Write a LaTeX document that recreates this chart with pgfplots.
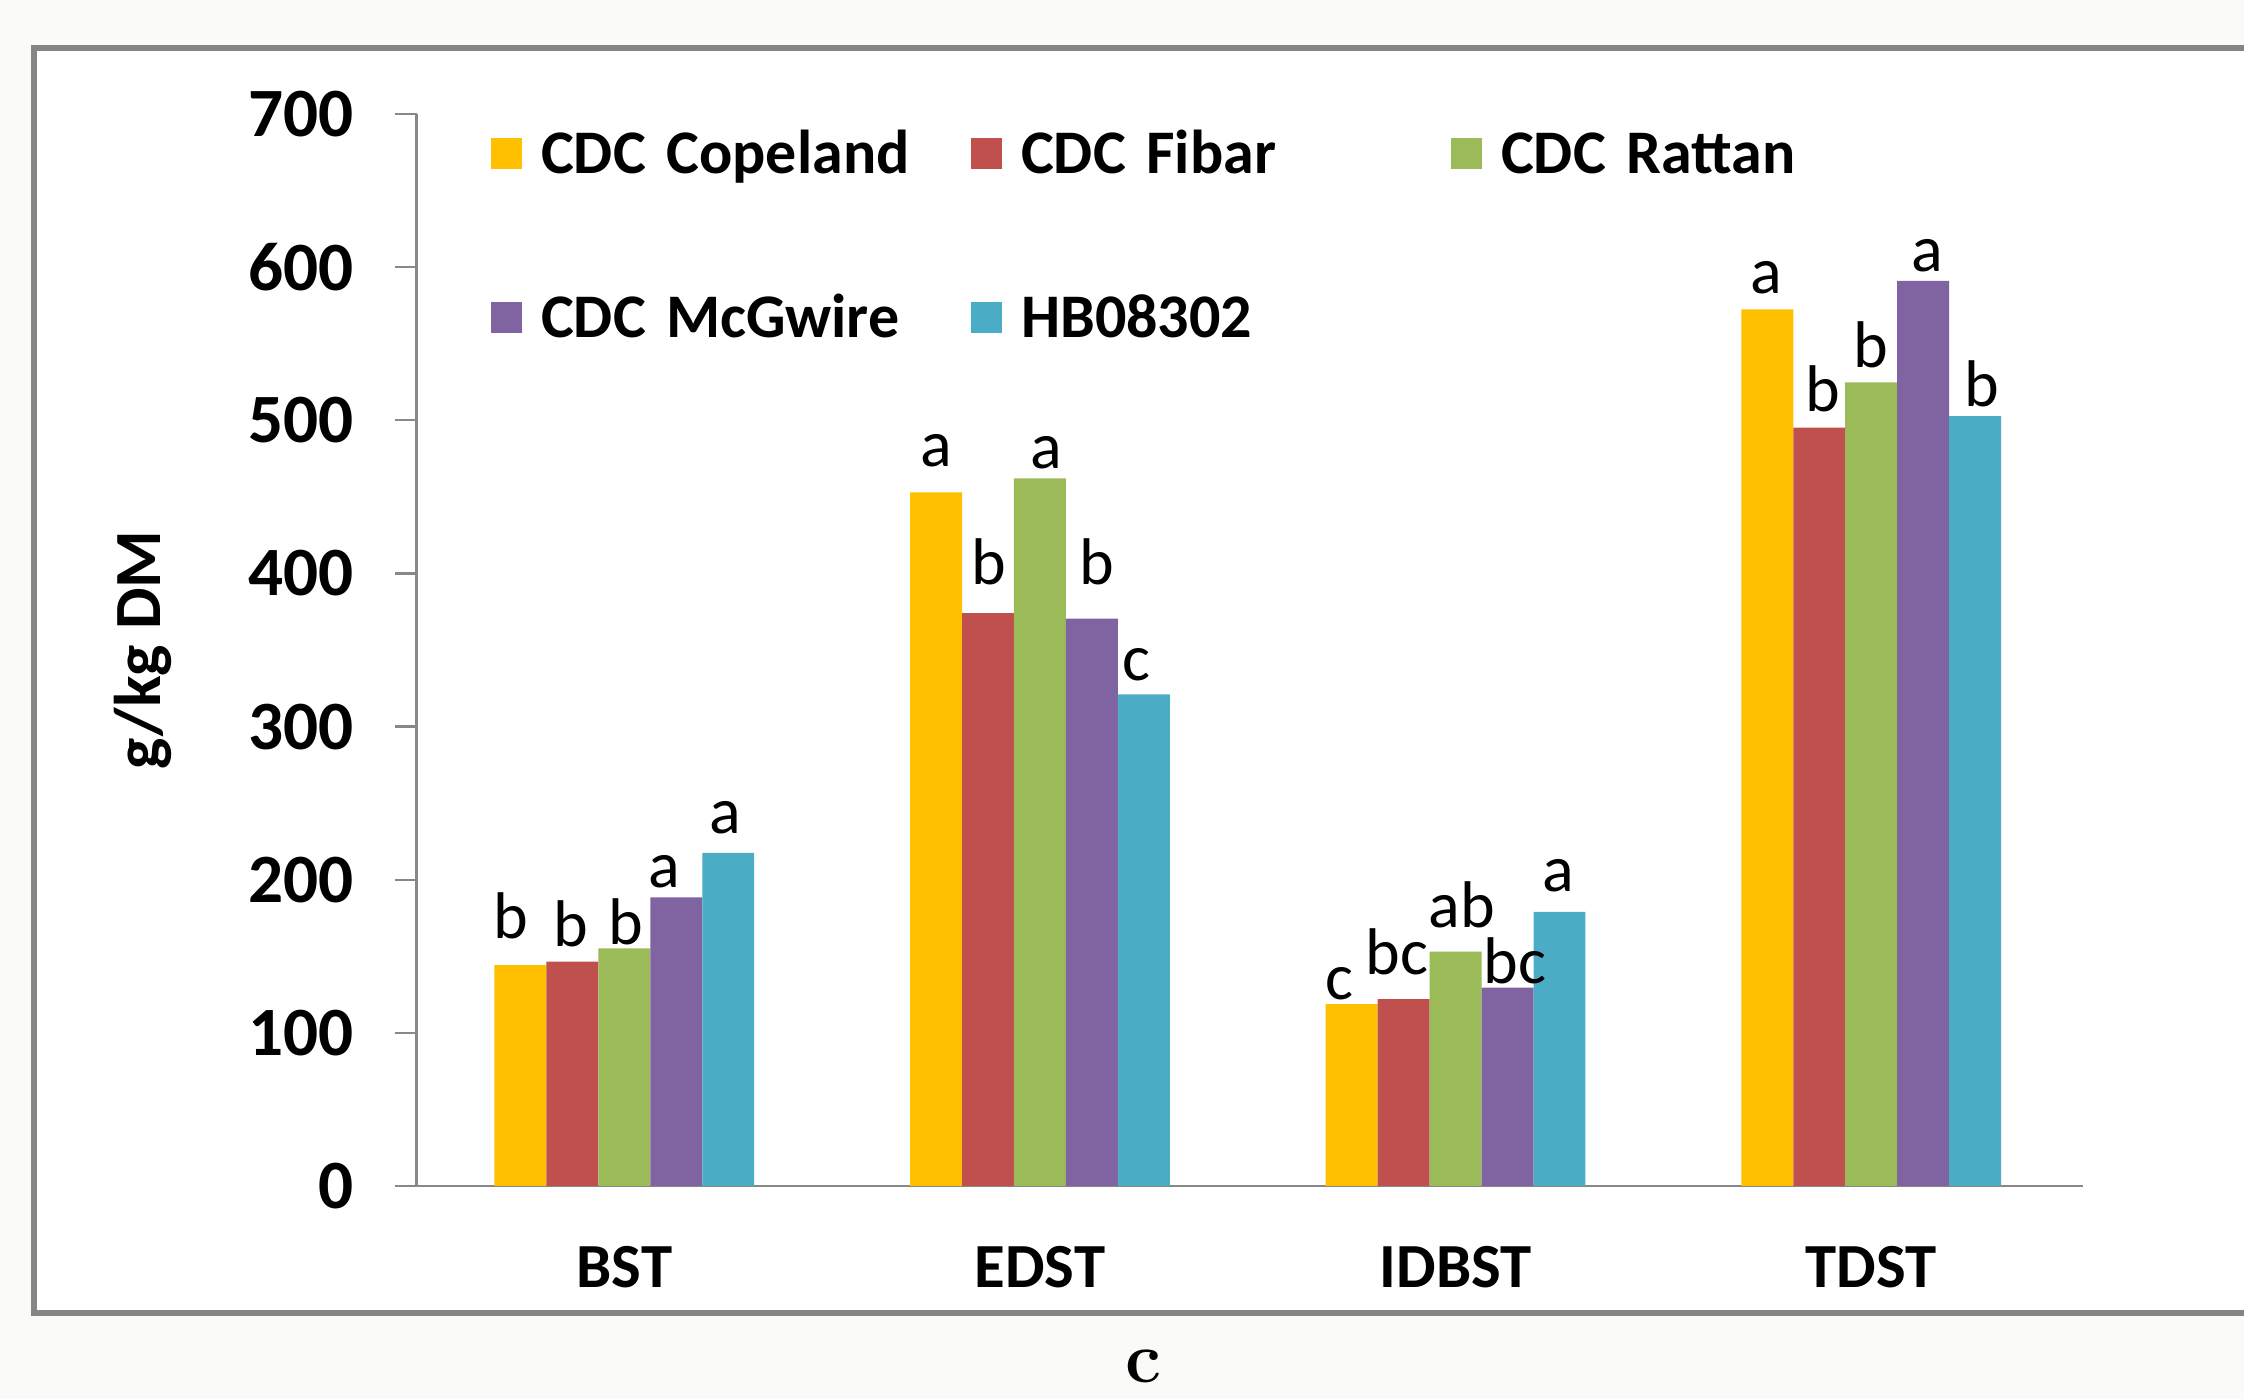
\documentclass[border=0pt]{standalone}
\usepackage{pgfplots}
\pgfplotsset{compat=1.18}
\usepackage{pgfplotstable}
\usepackage{fontspec}
\setmainfont{Carlito}
\newfontfamily\lmr{Latin Modern Roman}
\definecolor{cop}{HTML}{FFC000}
\definecolor{fib}{HTML}{C0504D}
\definecolor{rat}{HTML}{9BBB59}
\definecolor{mcg}{HTML}{8064A2}
\definecolor{hbc}{HTML}{4BACC6}
\definecolor{bgc}{RGB}{250,250,248}
\definecolor{framec}{HTML}{858585}
\definecolor{axc}{HTML}{888888}

\pgfplotstableread{
cat Cop Fib Rat McG HB
0 144.3 146.5 155.2 188.5 217.6
1 453.0 374.0 462.1 370.5 321.0
2 118.8 122.0 153.0 129.5 179.0
3 572.5 495.2 524.8 591.0 502.8
}\bars

\pgfplotstableread{
x y lab
-0.2726 161.3 b
-0.1280 156.3 b
0.0040 157.4 b
0.0955 195.2 a
0.2423 230.5 a
0.7517 469.7 a
0.8775 392.9 b
1.0147 468.2 a
1.1374 392.9 b
1.2313 330.4 c
1.7197 121.5 c
1.8592 137.8 bc
2.0156 169.1 ab
2.1432 131.9 bc
2.2466 192.0 a
2.7471 582.9 a
2.8843 505.6 b
2.9986 534.6 b
3.1345 597.0 a
3.2669 508.9 b
}\labs

\begin{document}
\begin{tikzpicture}
\useasboundingbox (0,0) rectangle (561pt,349.75pt);
\clip (0,0) rectangle (561pt,349.75pt);
\fill[bgc] (0,0) rectangle (561pt,349.75pt);
\draw[framec, line width=1.5pt, fill=white] (8.5pt,21.4pt) rectangle (600pt,337.75pt);
\begin{axis}[
  at={(104.125pt,53.25pt)}, anchor=south west,
  scale only axis, width=415.625pt, height=268pt,
  xmin=-0.5, xmax=3.5, ymin=0, ymax=700,
  axis x line*=bottom, axis y line*=left,
  axis line style={draw=axc, line width=0.6pt, -},
  x axis line style={shorten <=-5.4pt, shorten >=-1pt},
  ytick={0,100,...,700},
  xtick={0,1,2,3}, xticklabels={BST,EDST,IDBST,TDST},
  tick align=outside, major tick length=5.4pt,
  ytick style={draw=axc, line width=0.6pt},
  xtick style={draw=none},
  /pgf/number format/assume math mode=true,
  yticklabel style={font=\fontsize{17.3}{20}\selectfont\bfseries, anchor=east, inner sep=0pt, xshift=-10.2pt},
  xticklabel style={font=\fontsize{15.7}{18}\selectfont\bfseries, anchor=base, inner sep=0pt, yshift=-20.1pt},
  ylabel={g/kg DM},
  every axis y label/.style={at={(axis description cs:-0.1645,0.5)}, rotate=90, anchor=center, font=\fontsize{16.5}{19}\selectfont\bfseries},
  bar width=0.125,
  legend columns=3,
  legend cell align=left,
  legend image code/.code={\fill[#1] (0pt,-3.9pt) rectangle (7.8pt,3.9pt);},
  legend style={at={(0.0448,0.993)}, anchor=north west, draw=none, fill=none, inner sep=0pt, outer sep=0pt, row sep=25pt,
    font=\fontsize{15.5}{18}\selectfont\bfseries,
    nodes={inner sep=0pt, text width=107.45pt, text height=13pt, text depth=3pt, align=left},
    /tikz/every odd column/.append style={column sep=4.75pt}},
]
\addplot[ybar, bar width=0.125, bar shift=-0.25, fill=cop, draw=none] table[x=cat, y=Cop] {\bars};
\addlegendentry{CDC Copeland}
\addplot[ybar, bar width=0.125, bar shift=-0.125, fill=fib, draw=none] table[x=cat, y=Fib] {\bars};
\addlegendentry{CDC Fibar}
\addplot[ybar, bar width=0.125, bar shift=0, fill=rat, draw=none] table[x=cat, y=Rat] {\bars};
\addlegendentry{CDC Rattan}
\addplot[ybar, bar width=0.125, bar shift=0.125, fill=mcg, draw=none] table[x=cat, y=McG] {\bars};
\addlegendentry{CDC McGwire}
\addplot[ybar, bar width=0.125, bar shift=0.25, fill=hbc, draw=none] table[x=cat, y=HB] {\bars};
\addlegendentry{HB08302}
\addplot[draw=none, mark=none, forget plot, nodes near coords, point meta=explicit symbolic,
  every node near coord/.append style={anchor=base, inner sep=0pt, font=\fontsize{16.5}{19}\selectfont}]
  table[x=x, y=y, meta=lab] {\labs};
\end{axis}
\node[anchor=base, inner sep=0pt, outer sep=0pt, font=\lmr\fontsize{18}{20}\selectfont\bfseries] at (285.75pt,4pt) {c};
\end{tikzpicture}
\end{document}
